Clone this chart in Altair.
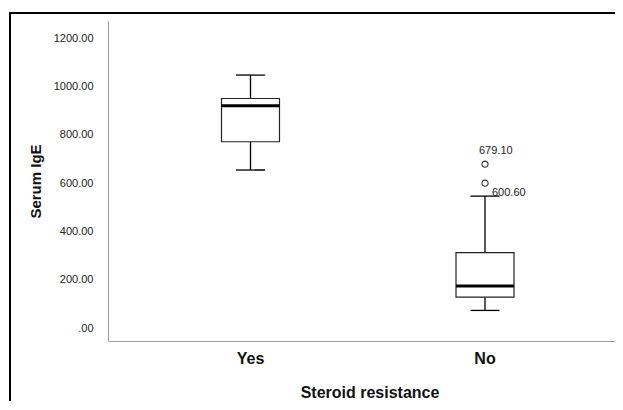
import altair as alt
import pandas as pd

# ---- data ----
groups = ["Yes", "No"]
lower_whisker = [655, 74]
q1 = [772, 129]
median = [921, 175]
q3 = [951, 313]
upper_whisker = [1048, 547]

outlier_groups = ["No", "No"]
outlier_values = [679.10, 600.60]
outlier_labels = ["679.10", "600.60"]

y_ticks = [0, 200, 400, 600, 800, 1000, 1200]

box = pd.DataFrame({
    "group": groups,
    "lo": lower_whisker,
    "q1": q1,
    "med": median,
    "q3": q3,
    "hi": upper_whisker,
})
outl = pd.DataFrame({"group": outlier_groups, "value": outlier_values, "label": outlier_labels})

W, H = 523, 320
FONT = "Liberation Sans"

xscale = alt.Scale(domain=groups, paddingInner=0, paddingOuter=0.1151, align=0.4676)
yscale = alt.Scale(domain=[-52.5, 1271.6], nice=False, zero=False)

x_enc = alt.X("group:N", scale=xscale, sort=groups,
              axis=alt.Axis(title="Steroid resistance", labelAngle=0, ticks=False, tickSize=0,
                            labelPadding=9, titlePadding=18, domainColor="#9a9a9a",
                            labelFont=FONT, labelFontSize=16, labelFontWeight="bold", labelColor="#111",
                            titleFont=FONT, titleFontSize=16, titleFontWeight="bold", titleColor="#111"))
y_axis = alt.Axis(title="Serum IgE", values=y_ticks, ticks=False, tickSize=0, grid=False,
                  labelPadding=15, titlePadding=10, domainColor="#9a9a9a",
                  labelExpr="datum.value == 0 ? '.00' : format(datum.value, '.2f')",
                  labelFont=FONT, labelFontSize=11, labelColor="#222",
                  titleFont=FONT, titleFontSize=15, titleFontWeight="bold", titleColor="#111")

base = alt.Chart(box)

whisk_low = base.mark_rule(color="#000", strokeWidth=1.3).encode(
    x=x_enc, y=alt.Y("lo:Q", scale=yscale, axis=y_axis), y2="q1:Q")
whisk_high = base.mark_rule(color="#000", strokeWidth=1.3).encode(
    x="group:N", y="q3:Q", y2="hi:Q")
caps_lo = base.mark_tick(color="#000", size=29, thickness=1.3, orient="horizontal", opacity=1).encode(
    x="group:N", y="lo:Q")
caps_hi = base.mark_tick(color="#000", size=29, thickness=1.3, orient="horizontal", opacity=1).encode(
    x="group:N", y="hi:Q")
boxes = base.mark_bar(size=58, fill="white", stroke="#222", strokeWidth=1.2, opacity=1).encode(
    x="group:N", y="q1:Q", y2="q3:Q")
meds = base.mark_tick(color="#000", size=58, thickness=3, orient="horizontal", opacity=1).encode(
    x="group:N", y="med:Q")

pts = alt.Chart(outl).mark_point(shape="circle", size=38, filled=False, color="#333",
                                 strokeWidth=1.1, opacity=1).encode(
    x="group:N", y="value:Q")
lab1 = alt.Chart(outl).transform_filter("datum.label == '679.10'").mark_text(
    align="left", baseline="alphabetic", dx=-6, dy=-10, font=FONT, fontSize=11, color="#222").encode(
    x="group:N", y="value:Q", text="label:N")
lab2 = alt.Chart(outl).transform_filter("datum.label == '600.60'").mark_text(
    align="left", baseline="middle", dx=7, dy=10, font=FONT, fontSize=11, color="#222").encode(
    x="group:N", y="value:Q", text="label:N")

frame_data = alt.Data(values=[{"f": 1}])
frame_left = alt.Chart(frame_data).mark_rule(color="#000", strokeWidth=2).encode(
    x=alt.value(-98), y=alt.value(-9), y2=alt.value(H + 70))
frame_top = alt.Chart(frame_data).mark_rule(color="#000", strokeWidth=2).encode(
    x=alt.value(-99), x2=alt.value(W), y=alt.value(-8))

chart = alt.layer(frame_left, frame_top, whisk_low, whisk_high, caps_lo, caps_hi, boxes, meds,
                  pts, lab1, lab2).properties(
    width=W, height=H,
    autosize=alt.AutoSizeParams(type="none"),
    padding={"left": 100, "top": 13, "right": -16, "bottom": 60},
).configure(background="white").configure_view(stroke="transparent", strokeWidth=0)

chart.save("out.html", embed_options={"renderer": "svg", "actions": False})
